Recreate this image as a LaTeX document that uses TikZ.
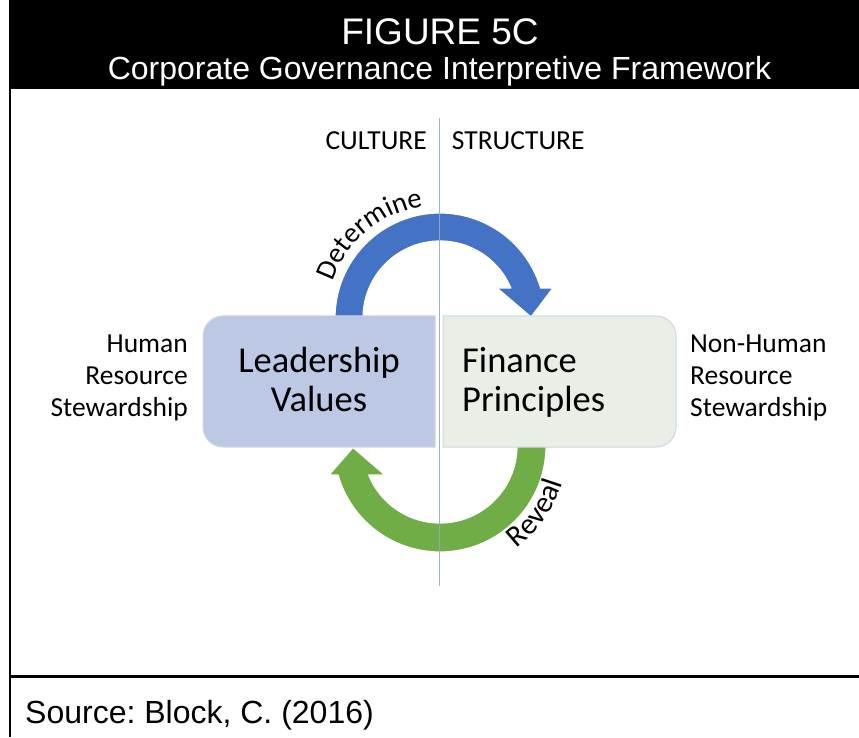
\documentclass[tikz,border=0pt]{standalone}
\usepackage{fontspec}
\setmainfont{Carlito}
\newfontfamily\headfont{Liberation Sans}
\usetikzlibrary{decorations.text}
\frenchspacing

\definecolor{arrowblue}{HTML}{4472C4}
\definecolor{arrowgreen}{HTML}{70AD47}
\definecolor{leadfill}{HTML}{BDC8E5}
\definecolor{finfill}{HTML}{E9EEE7}
\definecolor{boxedge}{HTML}{D2D6DC}
\definecolor{divider}{HTML}{93AAC2}

\begin{document}
\begin{tikzpicture}[x=1pt,y=1pt,
  headtext/.style={font=\headfont\fontsize{#1}{#1}\selectfont, inner sep=0pt, anchor=base},
  sidetext/.style={font=\fontsize{27.5}{27.5}\selectfont, inner sep=0pt},
  boxtext/.style={font=\fontsize{36.5}{36.5}\selectfont, inner sep=0pt},
  cyclearrow/.style={draw=white, line width=1.2pt, line join=round},
  boxshape/.style={draw=boxedge, line width=1pt}]

\useasboundingbox (0,0) rectangle (859,737);

% title band
\fill[black] (9,648) rectangle (859,737);
\node[headtext=37, text=white] (title) at (440,692) {FIGURE 5C};
\node[headtext=32, text=white] (subtitle) at (439.5,657) {Corporate Governance Interpretive Framework};

% frame lines
\draw[line width=2pt] (10,648) -- (10,0);
\draw[line width=3pt] (9,60.5) -- (859,60.5);
\node[headtext=32, anchor=base west] (source) at (25,14) {Source: Block, C. (2016)};

% "Determine" cycle arrow (centre 440,419)
\path[cyclearrow, fill=arrowblue]
  (335,419) arc[start angle=180, end angle=16.6, radius=105]
  -- (553,449) -- (531,420) -- (497,449) -- (510.9,449)
  arc[start angle=22.93, end angle=180, radius=77] -- cycle;

% "Reveal" cycle arrow (centre 440,291)
\path[cyclearrow, fill=arrowgreen]
  (546,291) arc[start angle=0, end angle=-164.1, radius=106]
  -- (329,262) -- (353,289.5) -- (385,262) -- (368.7,262)
  arc[start angle=-157.87, end angle=0, radius=77] -- cycle;

% the two boxes
\path[boxshape, fill=leadfill]
  (435,421) -- (223,421) arc[start angle=90, end angle=180, radius=20]
  -- (203,310) arc[start angle=180, end angle=270, radius=20]
  -- (435,290) -- cycle;
\path[boxshape, fill=finfill]
  (443,421) -- (656,421) arc[start angle=90, end angle=0, radius=20]
  -- (676,310) arc[start angle=0, end angle=-90, radius=20]
  -- (443,290) -- cycle;

\node[boxtext, anchor=base] (lead1) at (319,364.3) {Leadership};
\node[boxtext, anchor=base] (lead2) at (319,325.3) {Values};
\node[boxtext, anchor=base west] (fin1) at (462,364.3) {Finance};
\node[boxtext, anchor=base west] (fin2) at (462,325.3) {Principles};

% side labels
\node[sidetext, anchor=base east] (hum1) at (188,384) {Human};
\node[sidetext, anchor=base east] (hum2) at (188,352) {Resource};
\node[sidetext, anchor=base east] (hum3) at (188,320) {Stewardship};
\node[sidetext, anchor=base west] (non1) at (690,384) {Non-Human};
\node[sidetext, anchor=base west] (non2) at (690,352) {Resource};
\node[sidetext, anchor=base west] (non3) at (690,320) {Stewardship};

% column headings
\node[sidetext, anchor=base east] (culture) at (427,587.7) {CULTURE};
\node[sidetext, anchor=base west] (structure) at (451.7,587.7) {STRUCTURE};

% curved arrow labels, concentric with the arrows
\path[decorate, decoration={text along path, text align=center,
    text={|\fontsize{28.5}{28.5}\selectfont|Determine}}]
  (440,419) ++(170:113) arc[start angle=170, end angle=90, radius=113];
\path[decorate, decoration={text along path, text align=center,
    text={|\fontsize{30}{30}\selectfont|Reveal}}]
  (440,291) ++(-70:128) arc[start angle=-70, end angle=0, radius=128];

% divider between culture and structure
\draw[divider, line width=1.8pt, opacity=0.9] (439.5,619) -- (439.5,151.5);

\end{tikzpicture}
\end{document}
